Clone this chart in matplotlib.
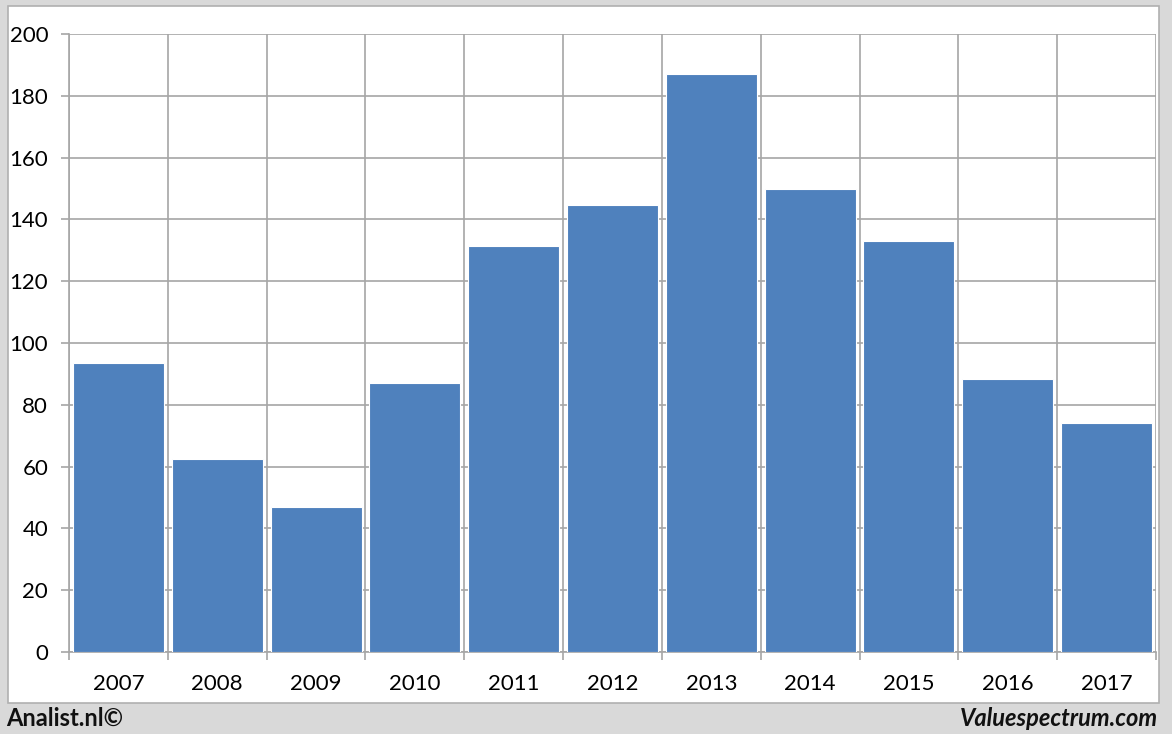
import matplotlib.pyplot as plt
import numpy as np
from matplotlib.patches import Rectangle

years = ["2007", "2008", "2009", "2010", "2011", "2012", "2013", "2014", "2015", "2016", "2017"]
values = [93.5, 62.5, 47.0, 87.0, 131.5, 144.5, 187.0, 150.0, 133.0, 88.5, 74.0]

plt.rcParams["font.family"] = ["Lato", "DejaVu Sans"]

fig = plt.figure(figsize=(11.72, 7.34), dpi=100, facecolor="#d9d9d9")
# white inner panel
fig.patches.append(Rectangle((8 / 1172, 31 / 734), 1151 / 1172, 697 / 734,
                             transform=fig.transFigure, facecolor="white",
                             edgecolor="#b0b0b0", linewidth=1.2, zorder=-10))

ax = fig.add_axes([69 / 1172, 82 / 734, 1087 / 1172, 618 / 734])
x = np.arange(len(years))
ax.bar(x, values, width=0.92, color="#4f81bd", edgecolor="white", linewidth=0.8, zorder=3)

ax.set_xlim(-0.5, len(years) - 0.5)
ax.set_ylim(0, 200)
ax.set_yticks(range(0, 201, 20))
ax.set_xticks(x)
ax.set_xticklabels(years)
ax.set_xticks(np.arange(-0.5, len(years)), minor=True)

ax.grid(axis="y", color="#a6a6a6", linewidth=1.2, zorder=0)
ax.grid(axis="x", which="minor", color="#a6a6a6", linewidth=1.2, zorder=0)
for s in ["top", "right"]:
    ax.spines[s].set_visible(False)
ax.spines["left"].set_color("#a6a6a6")
ax.spines["bottom"].set_color("#a6a6a6")
ax.spines["left"].set_linewidth(1.2)
ax.spines["bottom"].set_linewidth(1.2)

ax.tick_params(axis="x", which="major", length=0, pad=16, labelsize=16)
ax.tick_params(axis="x", which="minor", length=6, color="#a6a6a6", width=1.2)
ax.tick_params(axis="y", length=6, color="#a6a6a6", width=1.2, pad=9, labelsize=16)
ax.set_facecolor("white")

fig.text(6 / 1172, 16 / 734, "Analist.nl©", fontsize=17, fontweight="bold",
         va="center", ha="left", color="#111111")
fig.text(1158 / 1172, 16 / 734, "Valuespectrum.com", fontsize=17, fontweight="bold",
         style="italic", va="center", ha="right", color="#111111")

fig.savefig("out.png", dpi=100, facecolor=fig.get_facecolor())
